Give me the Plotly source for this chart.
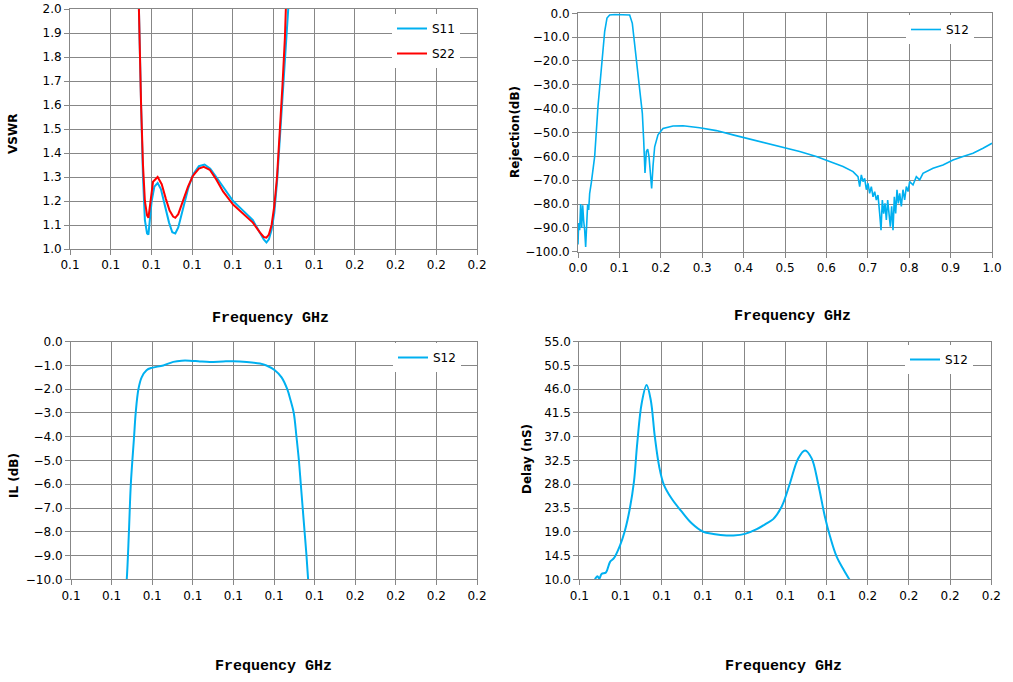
import plotly.graph_objects as go

W = 1013
H = 682

# ---- VSWR panel (frequency in GHz) ----
vswr_s11_f = [0.0747, 0.0754, 0.0762, 0.0769, 0.0776, 0.0784, 0.0789, 0.0794, 0.0801, 0.0811,
              0.0823, 0.0835, 0.0850, 0.0865, 0.0877, 0.0888, 0.0899, 0.0916, 0.0935, 0.0953,
              0.0975, 0.0996, 0.1017, 0.1039, 0.1064, 0.1101, 0.1138, 0.1174, 0.1199, 0.1214,
              0.1224, 0.1233, 0.1243, 0.1253, 0.1263, 0.1273, 0.1283, 0.1292, 0.1302, 0.1310, 0.1319]
vswr_s11 = [2.6, 2.0, 1.6, 1.3, 1.12, 1.065, 1.06, 1.12, 1.2, 1.26,
            1.275, 1.25, 1.18, 1.11, 1.07, 1.065, 1.09, 1.17, 1.25, 1.31,
            1.345, 1.352, 1.335, 1.30, 1.26, 1.20, 1.16, 1.12, 1.07, 1.04,
            1.027, 1.04, 1.08, 1.15, 1.28, 1.45, 1.63, 1.80, 1.95, 2.1, 2.5]

vswr_s22_f = [0.0747, 0.0754, 0.0762, 0.0769, 0.0776, 0.0784, 0.0789, 0.0796, 0.0806, 0.0823,
              0.0838, 0.0853, 0.0867, 0.0880, 0.0888, 0.0899, 0.0916, 0.0935, 0.0953, 0.0975,
              0.0993, 0.1015, 0.1039, 0.1064, 0.1101, 0.1138, 0.1174, 0.1199, 0.1214, 0.1224,
              0.1233, 0.1243, 0.1253, 0.1263, 0.1273, 0.1283, 0.1292, 0.1300, 0.1310]
vswr_s22 = [2.6, 2.0, 1.6, 1.35, 1.2, 1.14, 1.13, 1.2, 1.28, 1.30,
            1.27, 1.21, 1.16, 1.135, 1.13, 1.145, 1.2, 1.26, 1.305, 1.335,
            1.342, 1.33, 1.29, 1.24, 1.185, 1.145, 1.11, 1.07, 1.05, 1.047,
            1.06, 1.1, 1.18, 1.3, 1.48, 1.68, 1.88, 2.05, 2.5]

# ---- Rejection panel ----
rej_f = [0.0, 0.0016, 0.004, 0.0064, 0.0089, 0.0113, 0.0137, 0.0161, 0.0185, 0.0209,
         0.0233, 0.0258, 0.0282, 0.0322, 0.0403, 0.0483, 0.0564, 0.0644, 0.0700, 0.0765,
         0.0886, 0.1087, 0.1248, 0.1312, 0.1369, 0.1425, 0.1490, 0.1554, 0.1586, 0.1618,
         0.1651, 0.1683, 0.1715, 0.1747, 0.1779, 0.1812, 0.1852, 0.1932, 0.2053, 0.2295,
         0.2536, 0.2939, 0.3341, 0.3744, 0.4147, 0.4549, 0.4952, 0.5354, 0.5757, 0.6159,
         0.6401, 0.6643, 0.6763, 0.6804, 0.6844, 0.6884, 0.6924, 0.6965, 0.7005, 0.7045,
         0.7085, 0.7126, 0.7166, 0.7206, 0.7246, 0.7287, 0.7319, 0.7351, 0.7383, 0.7415,
         0.7448, 0.7480, 0.7512, 0.7544, 0.7576, 0.7609, 0.7641, 0.7673, 0.7705, 0.7738,
         0.7770, 0.7810, 0.7850, 0.7890, 0.7931, 0.7971, 0.8011, 0.8092, 0.8172, 0.8253,
         0.8333, 0.8414, 0.8575, 0.8816, 0.9058, 0.9300, 0.9541, 0.9783, 1.0]
rej_s12 = [-97, -88, -91, -80, -90, -80.5, -87, -91, -98, -84,
           -80, -82.5, -75.5, -71, -60, -39, -22, -7.7, -2, -0.7,
           -0.5, -0.5, -0.7, -4.2, -12.6, -22, -32, -42, -53, -67,
           -58, -57, -60, -67, -73.5, -64, -56, -51, -48.3, -47.3,
           -47.2, -48, -49.2, -51, -52.7, -54.5, -56.1, -58, -60.1, -62.7,
           -64.3, -66.4, -68.5, -72.7, -67.8, -70.6, -69.2, -74, -71.3, -75.5,
           -72.7, -77, -74.8, -78.3, -76.2, -84, -91, -78.3, -84, -79.7,
           -86.7, -78.3, -85.3, -89.5, -81, -91, -77, -84, -74, -79.7,
           -75.5, -81, -74, -78.3, -72.7, -74.8, -70.6, -72, -68.5, -69.9,
           -67.1, -66.4, -65, -63.6, -61.5, -60.1, -58.7, -56.6, -54.5]

# ---- Insertion loss panel ----
il_f = [0.0698, 0.0706, 0.0714, 0.0721, 0.0733, 0.0739, 0.0749, 0.0761, 0.0779, 0.0798,
        0.0841, 0.0878, 0.0909, 0.0939, 0.0976, 0.1013, 0.1062, 0.1099, 0.1149, 0.1198,
        0.1222, 0.1253, 0.1278, 0.1299, 0.1312, 0.1323, 0.1333, 0.1342, 0.1349, 0.1356,
        0.1363, 0.1370, 0.1376, 0.1382]
il_s12 = [-11, -10, -8, -6, -4, -3, -2, -1.5, -1.2, -1.1,
          -1.0, -0.85, -0.8, -0.8, -0.83, -0.85, -0.83, -0.82, -0.85, -0.92,
          -1.0, -1.2, -1.5, -2.0, -2.5, -3.0, -4.0, -5.0, -6.0, -7.0,
          -8.0, -9.0, -10.0, -11.0]

# ---- Group delay panel ----
delay_f = [0.0557, 0.0566, 0.0573, 0.0581, 0.0597, 0.0612, 0.0626, 0.0648, 0.0666, 0.0684,
           0.0699, 0.0711, 0.0727, 0.0745, 0.0760, 0.0775, 0.0791, 0.0808, 0.0836, 0.0873,
           0.0909, 0.0951, 0.0988, 0.1036, 0.1061, 0.1103, 0.1146, 0.1182, 0.1206, 0.1237,
           0.1267, 0.1297, 0.1322, 0.1346, 0.1370, 0.1394, 0.1413, 0.1437, 0.1467, 0.1483, 0.1498]
delay_s12 = [10.0, 10.6, 10.1, 11.0, 11.3, 13.3, 14.0, 16.4, 19.2, 23.4,
             28.5, 35.8, 43.3, 46.8, 44.0, 37.0, 31.3, 27.9, 25.3, 22.8,
             20.6, 19.0, 18.6, 18.3, 18.3, 18.6, 19.5, 20.6, 21.4, 23.8,
             28.2, 32.9, 34.4, 32.9, 28.0, 21.9, 18.1, 14.3, 11.4, 10.0, 9.0]

# x tick labels (Excel style rounding of the band axis)
band_ticks = [0.05, 0.065, 0.08, 0.095, 0.11, 0.125, 0.14, 0.155, 0.17, 0.185, 0.2]
band_labels = ['0.1', '0.1', '0.1', '0.1', '0.1', '0.1', '0.1', '0.2', '0.2', '0.2', '0.2']

BLUE = '#00B0F0'
RED = '#FF0000'
GRID = '#878787'
TICKFONT = dict(family='DejaVu Sans', size=12, color='#000000')


def px_x(p):
    return p / W


def px_y(p):
    return 1 - p / H


fig = go.Figure()

fig.add_trace(go.Scatter(x=vswr_s11_f, y=vswr_s11, name='S11', mode='lines', line=dict(color=BLUE, width=2),
                         xaxis='x', yaxis='y', legend='legend', legendgroup='a'))
fig.add_trace(go.Scatter(x=vswr_s22_f, y=vswr_s22, name='S22', mode='lines', line=dict(color=RED, width=2),
                         xaxis='x', yaxis='y', legend='legend', legendgroup='b'))
fig.add_trace(go.Scatter(x=rej_f, y=rej_s12, name='S12', mode='lines', line=dict(color=BLUE, width=1.6),
                         xaxis='x2', yaxis='y2', legend='legend2'))
fig.add_trace(go.Scatter(x=il_f, y=il_s12, name='S12', mode='lines', line=dict(color=BLUE, width=2, shape='spline'),
                         xaxis='x3', yaxis='y3', legend='legend3'))
fig.add_trace(go.Scatter(x=delay_f, y=delay_s12, name='S12', mode='lines', line=dict(color=BLUE, width=2, shape='spline'),
                         xaxis='x4', yaxis='y4', legend='legend4'))

axis_common = dict(showgrid=True, gridcolor=GRID, gridwidth=1, showline=True, linecolor=GRID, linewidth=1,
                   mirror=True, ticks='outside', ticklen=5, tickcolor=GRID, tickfont=TICKFONT, zeroline=False,
                   automargin=False)

panels = [
    # (xdomain px, ydomain px)
    ((70, 477), (9, 249)),
    ((578, 992), (13.3, 251.7)),
    ((71, 477), (341.7, 579.3)),
    ((579.3, 991.3), (341.7, 579.3)),
]

layout = dict(width=W, height=H, margin=dict(l=0, r=0, t=0, b=0, pad=0), paper_bgcolor='white',
              plot_bgcolor='white', showlegend=True)

for i, ((x0, x1), (y0, y1)) in enumerate(panels):
    sfx = '' if i == 0 else str(i + 1)
    xa = dict(axis_common, domain=[px_x(x0), px_x(x1)], anchor='y' + sfx)
    ya = dict(axis_common, domain=[px_y(y1), px_y(y0)], anchor='x' + sfx)
    if i == 1:
        xa.update(range=[0, 1.0], dtick=0.1, tick0=0, tickformat='.1f')
    else:
        xa.update(range=[0.05, 0.2], tickmode='array', tickvals=band_ticks, ticktext=band_labels)
    layout['xaxis' + sfx] = xa
    layout['yaxis' + sfx] = ya

layout['yaxis'].update(range=[1.0, 2.0], dtick=0.1, tick0=1.0, tickformat='.1f')
layout['yaxis2'].update(range=[-100, 0], dtick=10, tick0=0, tickformat='.1f')
layout['yaxis3'].update(range=[-10, 0], dtick=1, tick0=0, tickformat='.1f')
layout['yaxis4'].update(range=[10, 55], dtick=4.5, tick0=10, tickformat='.1f')

legend_common = dict(bgcolor='white', borderwidth=0, font=dict(family='DejaVu Sans', size=12, color='#000000'),
                     xanchor='left', yanchor='top', tracegroupgap=6)
layout['legend'] = dict(legend_common, x=px_x(392), y=px_y(14))
layout['legend2'] = dict(legend_common, x=px_x(906), y=px_y(15))
layout['legend3'] = dict(legend_common, x=px_x(393), y=px_y(343))
layout['legend4'] = dict(legend_common, x=px_x(905), y=px_y(345))

fig.update_layout(**layout)

xtitle_font = dict(family='Liberation Mono', size=15, color='#000000')
ytitle_font = dict(family='DejaVu Sans', size=12, color='#000000')
for text, cx, cy in [('<b>Frequency GHz</b>', 270, 318), ('<b>Frequency GHz</b>', 792, 316),
                     ('<b>Frequency GHz</b>', 273, 666), ('<b>Frequency GHz</b>', 783, 666)]:
    fig.add_annotation(text=text, x=px_x(cx), y=px_y(cy), xref='paper', yref='paper',
                       showarrow=False, font=xtitle_font, xanchor='center', yanchor='middle')
for text, cx, cy in [('<b>VSWR</b>', 13, 134), ('<b>Rejection(dB)</b>', 515, 132),
                     ('<b>IL (dB)</b>', 14, 476), ('<b>Delay (nS)</b>', 527, 459)]:
    fig.add_annotation(text=text, x=px_x(cx), y=px_y(cy), xref='paper', yref='paper', textangle=-90,
                       showarrow=False, font=ytitle_font, xanchor='center', yanchor='middle')

fig.write_html("out.html", config={'displayModeBar': False},
               post_script="document.body.style.margin='0';")
